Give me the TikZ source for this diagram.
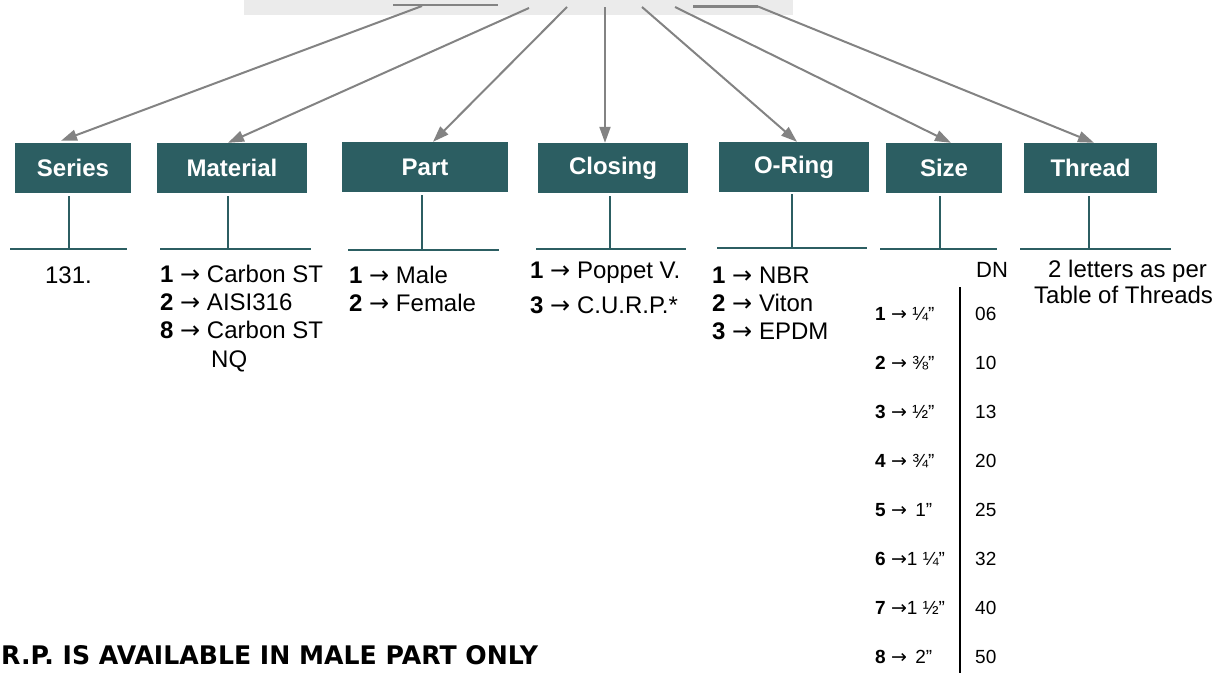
\documentclass[tikz,border=0pt]{standalone}
\usepackage{graphicx}
\usepackage{fontspec}
\setmainfont{Liberation Sans}
\newfontfamily\djv{DejaVu Sans}
\newcommand{\myarr}{{\djv →}}
\usetikzlibrary{arrows.meta}
\definecolor{teal1}{HTML}{2C5E62}
\definecolor{arrgray}{HTML}{838383}
\definecolor{boxgray}{HTML}{EBEBEB}
\tikzset{
 hdr/.style={fill=teal1, text=white, font=\bfseries\fontsize{24}{28}\selectfont, minimum height=50pt, inner sep=0pt, anchor=center},
 arr/.style={draw=arrgray, line width=2pt, -{Triangle[length=16pt,width=11pt]}},
 tee/.style={draw=teal1, line width=2.2pt},
 lst/.style={anchor=base west, inner sep=0pt, font=\fontsize{24}{28}\selectfont},
 szl/.style={anchor=base west, inner sep=0pt, font=\fontsize{19}{22}\selectfont},
}
\begin{document}
\begin{tikzpicture}[x=1pt,y=-1pt]
\useasboundingbox (0,0) rectangle (1228,673);
% top grey band
\fill[boxgray] (244,0) rectangle (793,15);
\draw[arrgray, line width=2pt] (393,5) -- (498,5);
\draw[arrgray, line width=3pt] (693,6.5) -- (758,6.5);
% sources
\coordinate (s1) at (422,6);
\coordinate (s2) at (529,8);
\coordinate (s3) at (567,7);
\coordinate (s4) at (605,7);
\coordinate (s5) at (642,7);
\coordinate (s6) at (675,7);
\coordinate (s7) at (758,6.5);
% header boxes
\node[hdr, minimum width=116pt] (series) at (73,168) {Series};
\node[hdr, minimum width=150pt] (material) at (232,168) {Material};
\node[hdr, minimum width=166pt] (part) at (425,167) {Part};
\node[hdr, minimum width=150pt] (closing) at (613,168) {Closing};
\node[hdr, minimum width=150pt] (oring) at (794,167) {O-Ring};
\node[hdr, minimum width=116pt] (size) at (944,168) {Size};
\node[hdr, minimum width=133pt] (thread) at (1090.5,168) {Thread};
% arrows
\draw[arr] (s1) -- ([xshift=-12pt,yshift=2pt]series.north);
\draw[arr] (s2) -- ([xshift=-4pt]material.north);
\draw[arr] (s3) -- ([xshift=8pt]part.north);
\draw[arr] (s4) -- ([xshift=-8pt]closing.north);
\draw[arr] (s5) -- ([xshift=3pt]oring.north);
\draw[arr] (s6) -- ([xshift=7pt]size.north);
\draw[arr] (s7) -- ([xshift=3.5pt]thread.north);
% tees
\draw[tee] (69,196) -- (69,249) (10,249) -- (127,249);
\draw[tee] (228,196) -- (228,249) (160,249) -- (311,249);
\draw[tee] (422,195) -- (422,250) (348,250) -- (499,250);
\draw[tee] (610,196) -- (610,249) (536,249) -- (686,249);
\draw[tee] (792,194) -- (792,248) (717,248) -- (867,248);
\draw[tee] (940,196) -- (940,249) (880,249) -- (997,249);
\draw[tee] (1089,196) -- (1089,249) (1020,249) -- (1171,249);
% series
\node[anchor=base, inner sep=0pt, font=\fontsize{24}{28}\selectfont] (t131) at (68.5,283) {131.};
% material
\node[lst] (m1) at (160,282) {\textbf{1} \myarr\ Carbon ST};
\node[lst] (m2) at (160,310) {\textbf{2} \myarr\ AISI316};
\node[lst] (m3) at (160,338) {\textbf{8} \myarr\ Carbon ST};
\node[lst] (m4) at (211,367) {NQ};
% part
\node[lst] (p1) at (349,283) {\textbf{1} \myarr\ Male};
\node[lst] (p2) at (349,311) {\textbf{2} \myarr\ Female};
% closing
\node[lst] (c1) at (530,278) {\textbf{1} \myarr\ Poppet V.};
\node[lst] (c2) at (530,313) {\textbf{3} \myarr\ C.U.R.P.*};
% o-ring
\node[lst] (o1) at (712,283) {\textbf{1} \myarr\ NBR};
\node[lst] (o2) at (712,311) {\textbf{2} \myarr\ Viton};
\node[lst] (o3) at (712,339) {\textbf{3} \myarr\ EPDM};
% size
\node[anchor=base west, inner sep=0pt, font=\fontsize{22}{26}\selectfont] (dn) at (976,277) {DN};
\draw[black, line width=2.6pt] (960,287) -- (960,673);
\node[szl] (z1) at (875,320) {\textbf{1} \myarr\ ¼”};
\node[szl] (z2) at (875,369) {\textbf{2} \myarr\ ⅜”};
\node[szl] (z3) at (875,418) {\textbf{3} \myarr\ ½”};
\node[szl] (z4) at (875,467) {\textbf{4} \myarr\ ¾”};
\node[szl] (z5) at (875,516) {\textbf{5} \myarr\ \,1”};
\node[szl] (z6) at (875,565) {\textbf{6} \myarr1 ¼”};
\node[szl] (z7) at (875,614) {\textbf{7} \myarr1 ½”};
\node[szl] (z8) at (875,663) {\textbf{8} \myarr\ \,2”};
\node[szl] (d1) at (975,320) {06};
\node[szl] (d2) at (975,369) {10};
\node[szl] (d3) at (975,418) {13};
\node[szl] (d4) at (975,467) {20};
\node[szl] (d5) at (975,516) {25};
\node[szl] (d6) at (975,565) {32};
\node[szl] (d7) at (975,614) {40};
\node[szl] (d8) at (975,663) {50};
% thread
\node[lst] (th1) at (1048,277) {2 letters as per};
\node[lst] (th2) at (1034,303) {Table of Threads};
% note
\node[anchor=base west, inner sep=0pt, font=\djv\bfseries] (note) at (1,664) {\resizebox{537pt}{19pt}{R.P. IS AVAILABLE IN MALE PART ONLY}};
\end{tikzpicture}
\end{document}
